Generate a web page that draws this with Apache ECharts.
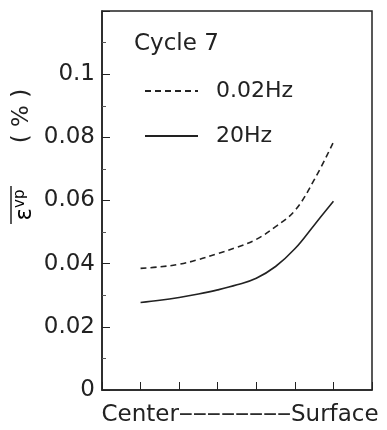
<!DOCTYPE html>
<html>
<head>
<meta charset="utf-8">
<script src="https://cdn.jsdelivr.net/npm/echarts@6/dist/echarts.min.js"></script>
<style>
html,body{margin:0;padding:0;background:#fff;}
#chart{width:387px;height:430px;}
</style>
</head>
<body>
<div id="chart"></div>
<script>
// positions from center (1) to surface (6)
const positions = [1, 1.5, 2, 2.5, 3, 3.5, 4, 4.5, 5, 5.5, 6];
const lowFreq = [0.0385, 0.0390, 0.0398, 0.0413, 0.0432, 0.0452, 0.0477, 0.0517, 0.0568, 0.0665, 0.0785];
const highFreq = [0.0277, 0.0284, 0.0293, 0.0304, 0.0317, 0.0333, 0.0354, 0.0391, 0.0447, 0.0522, 0.0598];
const seriesNames = ['0.02Hz', '20Hz'];
const yTickLabels = {0: '0', 0.02: '0.02', 0.04: '0.04', 0.06: '0.06', 0.08: '0.08', 0.1: '0.1'};
const titleText = 'Cycle 7';
const xNameStart = 'Center';
const xNameDashes = '\u2212\u2212\u2212\u2212\u2212\u2212\u2212\u2212';
const xNameEnd = 'Surface';
const yNameMain = '\u03b5';
const yNameSup = 'vp';
const yNameUnit = '( % )';

const ink = '#222';
const font = 'DejaVu Sans';
const chart = echarts.init(document.getElementById('chart'), null, {renderer: 'canvas'});

function pairs(xs, ys) { return xs.map((x, i) => [x, ys[i]]); }

chart.setOption({
  backgroundColor: '#fff',
  animation: false,
  title: {
    text: titleText, left: 134, top: 33, padding: 0,
    textStyle: {fontFamily: font, fontSize: 23, fontWeight: 'normal', color: ink}
  },
  legend: {
    orient: 'vertical', left: 144, top: 80, padding: 0,
    itemWidth: 53, itemHeight: 12, itemGap: 23,
    data: seriesNames,
    itemStyle: {opacity: 0},
    textStyle: {fontFamily: font, fontSize: 22, color: ink, padding: [0, 0, 0, 13]}
  },
  grid: {left: 102, right: 15, top: 11, bottom: 40, containLabel: false, outerBoundsMode: 'none',
         show: true, borderColor: ink, borderWidth: 1.5, backgroundColor: 'transparent'},
  xAxis: {
    type: 'value', min: 0, max: 7, interval: 1,
    name: '{a|' + xNameStart + '}{d|' + xNameDashes + '}{a|' + xNameEnd + '}',
    nameLocation: 'middle', nameGap: 13,
    nameTextStyle: {
      padding: [0, 0, 0, 6],
      rich: {
        a: {fontFamily: font, fontSize: 23, color: ink},
        d: {fontFamily: 'Liberation Sans', fontSize: 24, color: ink}
      }
    },
    axisLine: {lineStyle: {color: ink, width: 1.5}},
    axisTick: {inside: true, length: 8, lineStyle: {color: ink, width: 1}},
    axisLabel: {show: false},
    splitLine: {show: false}
  },
  yAxis: {
    type: 'value', min: 0, max: 0.12, interval: 0.02,
    axisLine: {show: true, lineStyle: {color: ink, width: 1.5}},
    axisTick: {inside: true, length: 8, lineStyle: {color: ink, width: 1}},
    minorTick: {show: true, splitNumber: 2, length: 4, lineStyle: {color: '#555', width: 1}},
    axisLabel: {
      margin: 7, fontFamily: font, fontSize: 23, color: ink,
      formatter: v => { const k = Math.round(v * 100) / 100; return yTickLabels[k] !== undefined ? yTickLabels[k] : ''; }
    },
    splitLine: {show: false}
  },
  graphic: [
    {type: 'text', x: 25, y: 205, rotation: Math.PI / 2,
     style: {text: '{e|' + yNameMain + '}{s|' + yNameSup + '}', align: 'center', verticalAlign: 'middle',
       rich: {
         e: {fontFamily: font, fontSize: 23, color: ink, lineHeight: 24, verticalAlign: 'bottom'},
         s: {fontFamily: font, fontSize: 15, color: ink, lineHeight: 16, verticalAlign: 'top'}
       }}},
    {type: 'line', shape: {x1: 11, y1: 186, x2: 11, y2: 224}, style: {stroke: ink, lineWidth: 1.5}},
    {type: 'text', x: 22, y: 116, rotation: Math.PI / 2,
     style: {text: yNameUnit, align: 'center', verticalAlign: 'middle', fontFamily: font, fontSize: 23, fill: ink}}
  ],
  series: [
    {name: seriesNames[0], type: 'line', smooth: 0.4, symbol: 'none',
     data: pairs(positions, lowFreq),
     lineStyle: {color: ink, width: 1.6, type: [6, 4]}, itemStyle: {color: ink}},
    {name: seriesNames[1], type: 'line', smooth: 0.4, symbol: 'none',
     data: pairs(positions, highFreq),
     lineStyle: {color: ink, width: 1.6, type: 'solid'}, itemStyle: {color: ink}}
  ]
});
</script>
</body>
</html>
